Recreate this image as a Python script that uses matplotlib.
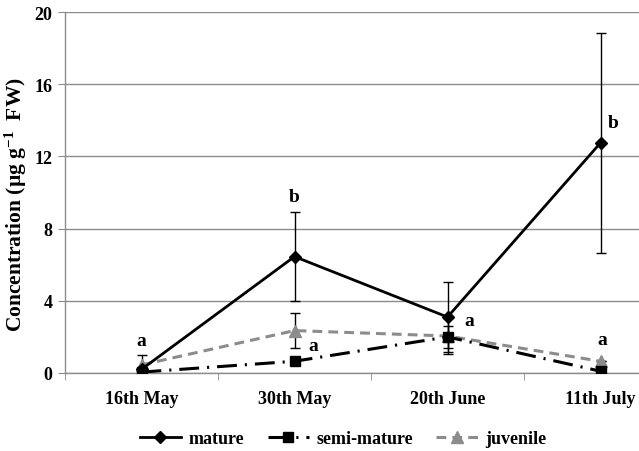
import matplotlib
matplotlib.use("Agg")
import matplotlib.pyplot as plt
from matplotlib.lines import Line2D
from matplotlib.ticker import FixedLocator, NullFormatter

plt.rcParams['font.family'] = ['Liberation Serif', 'DejaVu Serif']
plt.rcParams['font.weight'] = 'bold'
plt.rcParams['mathtext.fontset'] = 'custom'
plt.rcParams['mathtext.rm'] = 'Liberation Serif:bold'
plt.rcParams['mathtext.bf'] = 'Liberation Serif:bold'
plt.rcParams['mathtext.it'] = 'Liberation Serif:bold'

categories = ['16th May', '30th May', '20th June', '11th July']
mature = [0.2, 6.45, 3.1, 12.75]
mature_err = [0.0, 2.45, 1.95, 6.1]
semi_mature = [0.05, 0.65, 2.0, 0.1]
semi_mature_err = [0.0, 0.0, 0.6, 0.0]
juvenile = [0.45, 2.35, 2.05, 0.65]
juvenile_err = [0.55, 0.95, 1.0, 0.0]
letters = [('a', 1.0, 1.8), ('b', 2.0, 9.8), ('a', 2.12, 1.55),
           ('a', 3.14, 2.9), ('b', 4.08, 13.9), ('a', 4.01, 1.85)]
yticks = [0, 4, 8, 12, 16, 20]

fig = plt.figure(figsize=(6.39, 4.52), dpi=100)
ax = fig.add_axes([65/639, 78/452, 612/639, 361/452])

x = [1, 2, 3, 4]
grey = '#8c8c8c'
ebkw = dict(ecolor='black', elinewidth=1.0, capsize=3.5, capthick=1.0)

styles = {
    'juvenile': dict(color=grey, lw=2.2, linestyle=(0, (3.2, 2.0)), marker='^', markersize=8),
    'semi-mature': dict(color='black', lw=2.2, linestyle=(0, (6.5, 2.6, 0.7, 2.6)), marker='s', markersize=7.5),
    'mature': dict(color='black', lw=2.0, linestyle='-', marker='D', markersize=6.5),
}

ax.errorbar(x, juvenile, yerr=juvenile_err, zorder=3, **styles['juvenile'], **ebkw)
ax.errorbar(x, semi_mature, yerr=semi_mature_err, zorder=4, **styles['semi-mature'], **ebkw)
ax.errorbar(x, mature, yerr=mature_err, zorder=5, **styles['mature'], **ebkw)

for t, xx, yy in letters:
    ax.text(xx, yy, t, ha='center', va='center', fontsize=14, fontweight='bold')

ax.set_xlim(0.5, 4.5)
ax.set_ylim(0, 20)
ax.set_yticks(yticks)
ax.set_yticklabels([str(v) for v in yticks])
ax.set_xticks(x)
ax.set_xticklabels(categories)
ax.xaxis.set_minor_locator(FixedLocator([0.5, 1.5, 2.5, 3.5, 4.5]))
ax.xaxis.set_minor_formatter(NullFormatter())
ax.tick_params(axis='x', which='major', length=0, pad=12, labelsize=13)
ax.tick_params(axis='x', which='minor', length=5, color=grey, direction='out')
ax.tick_params(axis='y', length=5, color=grey, pad=4, labelsize=13)
ax.grid(axis='y', color=grey, lw=1.0)
ax.set_axisbelow(True)
for s in ['top', 'right']:
    ax.spines[s].set_visible(False)
for s in ['left', 'bottom']:
    ax.spines[s].set_color(grey)
    ax.spines[s].set_linewidth(1.0)

ax.set_ylabel(r'Concentration (µg g$^{-1}$  FW)', fontsize=15.5, fontweight='bold')
ax.yaxis.set_label_coords(-36/612, 0.468)

names = ['mature', 'semi-mature', 'juvenile']
handles = [Line2D([], [], **styles[n]) for n in names]
fig.legend(handles, names, loc='center',
           bbox_to_anchor=(343/639, 12/452), ncol=3, frameon=False,
           fontsize=13, handlelength=2.3, columnspacing=1.3, handletextpad=0.4)

fig.savefig('out.png', dpi=100)
